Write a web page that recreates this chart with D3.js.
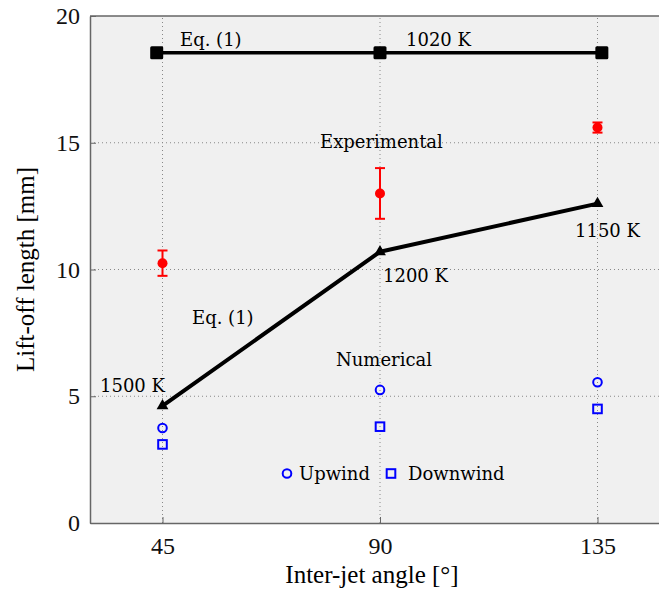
<!DOCTYPE html>
<html>
<head>
<meta charset="utf-8">
<script src="https://cdn.jsdelivr.net/npm/d3@7"></script>
<style>
  body { margin: 0; background: #fff; }
</style>
</head>
<body>
<script>
// ********************** DATA **************************************************************
var angles = [45, 90, 135];
var eqTopAngles = [43.8, 90, 135.9];          // squares sit slightly off the grid in the original
var eqTop = [18.55, 18.55, 18.55];            // Eq. (1), 1020 K
var eqLine = [4.62, 10.7, 12.6];              // Eq. (1), 1500/1200/1150 K
var expMean = [10.25, 13.0, 15.6];
var expLow = [9.75, 12.0, 15.4];
var expHigh = [10.75, 14.0, 15.8];
var upwind = [3.75, 5.25, 5.55];
var downwind = [3.1, 3.8, 4.5];
var xTicks = [45, 90, 135];
var yTicks = [0, 5, 10, 15, 20];

var width = 659, height = 590;
var margin = { left: 90, top: 16, bottom: 67 };

var svg = d3.select("body").append("svg")
  .attr("width", width)
  .attr("height", height);

// Define scales
var x = d3.scaleLinear().domain([30, 150]).range([margin.left, 670]);
var y = d3.scaleLinear().domain([0, 20]).range([height - margin.bottom, margin.top]);

var serif = "'Liberation Serif', 'Times New Roman', serif";
var annFont = "'DejaVu Serif', serif";

// background
svg.append("rect")
  .attr("x", x(30)).attr("y", y(20))
  .attr("width", x(150) - x(30)).attr("height", y(0) - y(20))
  .attr("fill", "#f0f0f0");

// dotted grid
svg.selectAll(".vgrid").data(xTicks).enter().append("line")
  .attr("x1", d => x(d)).attr("x2", d => x(d))
  .attr("y1", y(0)).attr("y2", y(20))
  .attr("stroke", "#888").attr("stroke-width", 1)
  .attr("stroke-dasharray", "1,3");
svg.selectAll(".hgrid").data([5, 10, 15]).enter().append("line")
  .attr("x1", x(30)).attr("x2", x(150))
  .attr("y1", d => y(d)).attr("y2", d => y(d))
  .attr("stroke", "#888").attr("stroke-width", 1)
  .attr("stroke-dasharray", "1,3");

// axes
var xAxis = svg.append("g")
  .attr("transform", "translate(0," + y(0) + ")")
  .call(d3.axisBottom(x).tickValues(xTicks).tickSizeInner(-6).tickSizeOuter(0).tickPadding(14));
var yAxis = svg.append("g")
  .attr("transform", "translate(" + x(30) + ",0)")
  .call(d3.axisLeft(y).tickValues(yTicks).tickSizeInner(-6).tickSizeOuter(0).tickPadding(10));

[xAxis, yAxis].forEach(function(a) {
  a.select(".domain").attr("stroke", "#666").attr("stroke-width", 1.5);
  a.selectAll(".tick line").attr("stroke", "#666");
  a.selectAll("text")
    .style("font-family", serif)
    .style("font-size", "24px")
    .attr("fill", "#111");
});

// top frame
svg.append("line")
  .attr("x1", x(30)).attr("x2", x(150))
  .attr("y1", y(20)).attr("y2", y(20))
  .attr("stroke", "#666").attr("stroke-width", 1.5);

// axis labels
svg.append("text")
  .attr("x", 372).attr("y", 583)
  .attr("text-anchor", "middle")
  .style("font-family", serif).style("font-size", "25px")
  .text("Inter-jet angle [°]");

svg.append("text")
  .attr("transform", "translate(34," + ((y(0) + y(20)) / 2) + ") rotate(-90)")
  .attr("text-anchor", "middle")
  .style("font-family", serif).style("font-size", "25px")
  .text("Lift-off length [mm]");

// Eq. (1) at 1020 K
var lineTop = d3.line().x((d, i) => x(eqTopAngles[i])).y(d => y(d));
var line = d3.line().x((d, i) => x(angles[i])).y(d => y(d));
svg.append("path").datum(eqTop)
  .attr("d", lineTop).attr("fill", "none")
  .attr("stroke", "#000").attr("stroke-width", 3.5);
svg.selectAll(".sqTop").data(eqTop).enter().append("rect")
  .attr("x", (d, i) => x(eqTopAngles[i]) - 6.5).attr("y", d => y(d) - 6.5)
  .attr("width", 13).attr("height", 13).attr("rx", 1.5)
  .attr("fill", "#000");

// Eq. (1) variable temperature
svg.append("path").datum(eqLine)
  .attr("d", line).attr("fill", "none")
  .attr("stroke", "#000").attr("stroke-width", 4)
  .attr("stroke-linejoin", "round");
svg.selectAll(".tri").data(eqLine).enter().append("path")
  .attr("d", d3.symbol().type(d3.symbolTriangle).size(60))
  .attr("transform", (d, i) => "translate(" + x(angles[i]) + "," + y(d) + ")")
  .attr("fill", "#000");

// Experimental with error bars
var errG = svg.append("g").attr("stroke", "#ff0000").attr("stroke-width", 2);
angles.forEach(function(a, i) {
  errG.append("line")
    .attr("x1", x(a)).attr("x2", x(a))
    .attr("y1", y(expLow[i])).attr("y2", y(expHigh[i]));
  errG.append("line")
    .attr("x1", x(a) - 5).attr("x2", x(a) + 5)
    .attr("y1", y(expLow[i])).attr("y2", y(expLow[i]));
  errG.append("line")
    .attr("x1", x(a) - 5).attr("x2", x(a) + 5)
    .attr("y1", y(expHigh[i])).attr("y2", y(expHigh[i]));
});
svg.selectAll(".exp").data(expMean).enter().append("circle")
  .attr("cx", (d, i) => x(angles[i])).attr("cy", d => y(d))
  .attr("r", 5).attr("fill", "#ff0000");

// Numerical
svg.selectAll(".up").data(upwind).enter().append("circle")
  .attr("cx", (d, i) => x(angles[i])).attr("cy", d => y(d))
  .attr("r", 4.3).attr("fill", "none")
  .attr("stroke", "#0000ff").attr("stroke-width", 2);
svg.selectAll(".down").data(downwind).enter().append("rect")
  .attr("x", (d, i) => x(angles[i]) - 4.3).attr("y", d => y(d) - 4.3)
  .attr("width", 8.6).attr("height", 8.6).attr("fill", "none")
  .attr("stroke", "#0000ff").attr("stroke-width", 2);

// annotations
var labels = [
  { t: "Eq. (1)", x: 180, y: 46 },
  { t: "1020 K", x: 406, y: 46 },
  { t: "Experimental", x: 320, y: 148 },
  { t: "1150 K", x: 575, y: 237 },
  { t: "1200 K", x: 383, y: 282 },
  { t: "Eq. (1)", x: 192, y: 324 },
  { t: "Numerical", x: 336, y: 366 },
  { t: "1500 K", x: 100, y: 392 },
  { t: "Upwind", x: 299, y: 480 },
  { t: "Downwind", x: 408, y: 480 }
];
svg.selectAll(".ann").data(labels).enter().append("text")
  .attr("x", d => d.x).attr("y", d => d.y)
  .style("font-family", annFont).style("font-size", "18px")
  .attr("fill", "#000")
  .text(d => d.t);

// legend markers
svg.append("circle")
  .attr("cx", 287).attr("cy", 473.5).attr("r", 4.3)
  .attr("fill", "none").attr("stroke", "#0000ff").attr("stroke-width", 2);
svg.append("rect")
  .attr("x", 391 - 4.3).attr("y", 473.5 - 4.3)
  .attr("width", 8.6).attr("height", 8.6)
  .attr("fill", "none").attr("stroke", "#0000ff").attr("stroke-width", 2);
</script>
</body>
</html>
